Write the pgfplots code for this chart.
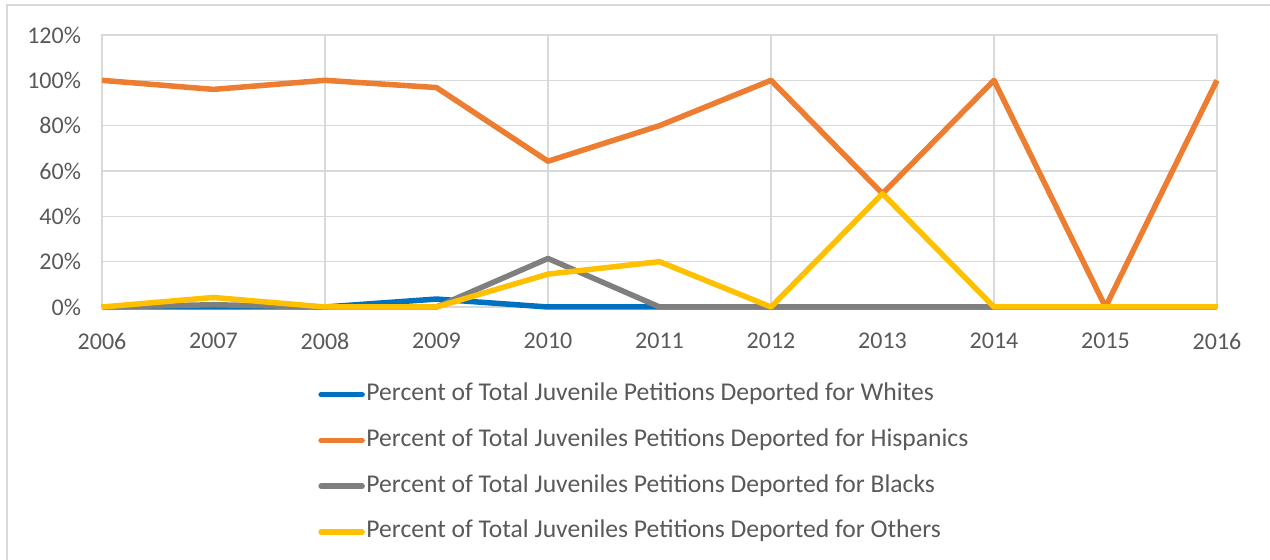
\documentclass[border=0pt]{standalone}
\usepackage{pgfplots}
\pgfplotsset{compat=1.18}
\usepackage{fontspec}
\setmainfont{Carlito}
\definecolor{cBlue}{HTML}{0070C0}
\definecolor{cOrange}{HTML}{ED7D31}
\definecolor{cGray}{HTML}{7F7F7F}
\definecolor{cYellow}{HTML}{FFC000}
\definecolor{cGrid}{HTML}{D9D9D9}
\definecolor{cText}{HTML}{595959}
\begin{document}
\begin{tikzpicture}
\path[use as bounding box] (0,0) rectangle (635pt,280pt);
\draw[cGrid, line width=1.2pt] (3.5pt,0pt) -- (3.5pt,277.5pt) -- (635pt,277.5pt);
\begin{axis}[
  at={(51pt,126.5pt)}, anchor=south west,
  width=557.5pt, height=136pt, scale only axis,
  xmin=2006, xmax=2016, ymin=0, ymax=120,
  xtick={2006,2008,...,2016},
  xticklabels={2006,2008,2010,2012,2014,2016},
  extra x ticks={2007,2009,2011,2013,2015},
  extra x tick labels={2007,2009,2011,2013,2015},
  extra x tick style={grid=none},
  ytick={0,20,...,120},
  yticklabels={0\%,20\%,40\%,60\%,80\%,100\%,120\%},
  grid=major,
  grid style={cGrid, line width=0.75pt},
  axis line style={cGrid, line width=0.75pt},
  major tick length=0pt,
  tick label style={font=\fontsize{12}{14}\selectfont, text=cText},
  xticklabel style={yshift=-9.5pt},
  yticklabel style={xshift=-7pt},
  legend cell align=left,
  legend style={at={(0.1937,-0.277)}, anchor=north west, draw=none, fill=none,
    font=\fontsize{12.8}{15}\selectfont, text=cText,
    row sep=10.85pt, column sep=0.8pt, inner sep=0pt,
    nodes={inner sep=0pt, text height=9pt, text depth=3pt}},
  legend image code/.code={\draw[#1, line width=2.75pt, line cap=round] (0pt,0pt) -- (20.5pt,0pt);},
  every axis plot/.append style={line width=2.75pt, line join=round},
  clip=false,
]
\addplot[cBlue] coordinates {(2006,0) (2007,0) (2008,0) (2009,3.5) (2010,0) (2011,0) (2012,0) (2013,0) (2014,0) (2015,0) (2016,0)};
\addlegendentry{Percent of Total Juvenile Petitions Deported for Whites}
\addplot[cOrange] coordinates {(2006,100) (2007,96) (2008,100) (2009,96.8) (2010,64.3) (2011,80) (2012,100) (2013,50) (2014,100) (2015,0) (2016,100)};
\addlegendentry{Percent of Total Juveniles Petitions Deported for Hispanics}
\addplot[cGray] coordinates {(2006,0) (2007,1) (2008,0) (2009,0) (2010,21.4) (2011,0) (2012,0) (2013,0) (2014,0) (2015,0) (2016,0)};
\addlegendentry{Percent of Total Juveniles Petitions Deported for Blacks}
\addplot[cYellow] coordinates {(2006,0) (2007,4.2) (2008,0) (2009,0) (2010,14.5) (2011,20) (2012,0) (2013,50) (2014,0) (2015,0) (2016,0)};
\addlegendentry{Percent of Total Juveniles Petitions Deported for Others}
\end{axis}
\end{tikzpicture}
\end{document}
